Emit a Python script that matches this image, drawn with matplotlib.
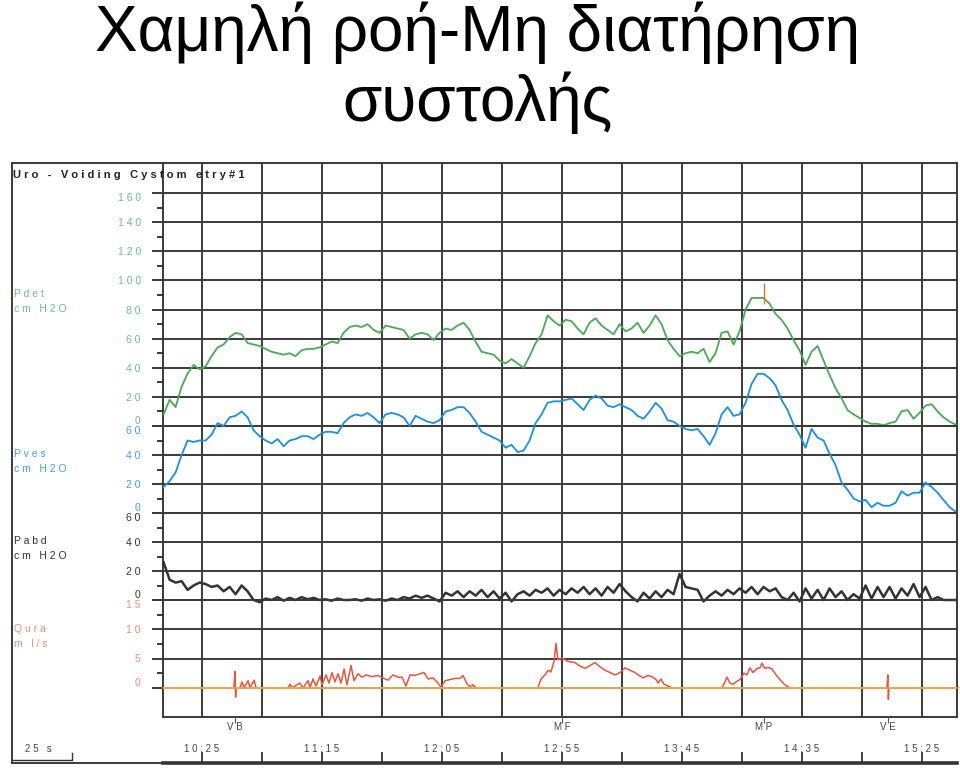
import numpy as np
import matplotlib.pyplot as plt
from matplotlib.lines import Line2D

plt.rcParams['font.family'] = ['Liberation Sans', 'DejaVu Sans']

# ---- data ----
# pressure channels sampled every 2.5 s from 609 s
t = np.arange(609, 940, 2.5)

pdet = [8, 18, 13, 27, 36, 42, 39, 41, 48, 54,
        56, 61, 64, 63, 57, 56, 55, 53, 51, 50,
        49, 50, 48, 52, 53, 53, 54, 56, 58, 57,
        64, 68, 69, 68, 70, 66, 64, 69, 68, 67,
        66, 60, 63, 64, 63, 59, 64, 67, 66, 69,
        71, 66, 58, 51, 50, 49, 45, 43, 46, 43,
        40, 48, 57, 63, 76, 72, 69, 73, 72, 67,
        63, 71, 74, 69, 66, 63, 70, 65, 67, 71,
        64, 69, 76, 70, 59, 53, 48, 50, 51, 50,
        53, 44, 50, 64, 65, 56, 65, 80, 88, 88,
        88, 84, 77, 73, 67, 59, 52, 42, 51, 55,
        45, 35, 26, 19, 11, 8, 5.5, 3, 1.5, 1.5,
        0.5, 2, 3, 10, 11, 5, 9, 14, 15, 10,
        6, 3, 1]

pves = [18, 22, 28, 40, 50, 49, 50, 50, 54, 62,
        60, 66, 67, 70, 66, 57, 53, 50, 48, 51,
        46, 50, 51, 53, 53, 51, 54, 56, 56, 55,
        62, 66, 68, 67, 69, 66, 62, 68, 69, 68,
        66, 60, 67, 65, 63, 62, 64, 70, 71, 73,
        73, 69, 63, 56, 54, 52, 50, 45, 47, 42,
        43, 50, 62, 68, 76, 77, 77, 78, 79, 75,
        71, 78, 81, 79, 74, 73, 75, 73, 71, 67,
        65, 70, 76, 72, 64, 63, 60, 58, 57, 58,
        53, 47, 55, 68, 73, 67, 68, 76, 89, 96,
        96, 93, 88, 78, 71, 61, 54, 45, 58, 52,
        50, 41, 33, 21, 16, 10, 8, 9, 4, 7,
        5, 5, 7, 15, 12, 14, 14, 21, 18, 14,
        9, 4, 1]

pabd = [26, 14, 12, 13, 7, 10, 12, 11, 9, 10,
        6, 9, 4, 10, 6, 0, -1.5, 1, 0, 2,
        -0.5, 1.5, 0, 2, 0.5, 1.5, 0, 0.5, -0.5, 1,
        0, 0, 0.5, -0.5, 1, 0, 0.5, -0.5, 1, 0,
        2, 1, 3, 1.5, 3, 1, -1, 5, 3, 6,
        2, 6, 3, 7, 2, 6, 1, 5, -1, 4,
        6, 3, 7, 5, 8, 3, 7, 4, 8, 5,
        9, 4, 8, 3, 9, 5, 11, 6, 2, -1,
        5, 1, 6, 2, 7, 4, 18, 9, 8, 7,
        -1, 3, 6, 3, 7, 4, 8, 5, 9, 4,
        9, 6, 8, 2, 0, 5, -1, 8, 1, 7,
        0, 8, 2, 6, 0, 4, 1, 10, 1, 9,
        2, 9, 1, 8, 3, 11, 2, 9, 0, 2,
        0, 0, 0]

# flow: (time s, ml/s)
qura_pts = [(608.75, 0), (638.3, 0), (638.75, 2.8), (639, -1.6), (639.2, 0),
            (640.8, 0), (641.7, 1), (642.5, 0), (644.2, 1.2), (645, 0),
            (646.7, 1.3), (647.5, 0),
            (660.8, 0), (661.7, 0.6), (662.5, 0), (665.8, 0.8), (667.1, 0),
            (669.2, 1.2), (670, 0), (671.25, 1.5), (672.5, 0.3), (674.2, 2),
            (675, 0.5), (676.7, 2.2), (677.9, 0.8), (679.2, 2.6), (680.4, 1),
            (681.7, 2.4), (682.9, 0.8), (684.2, 3.2), (685.4, 0.5), (687.1, 3.8),
            (688.3, 1.2), (690, 2.4), (691.7, 1.8), (693.3, 2.2), (695.8, 1.9),
            (698.3, 2.1), (700.8, 1.6), (702.5, 1.3), (704.6, 2.2), (706.7, 1.8),
            (708.3, 1.8), (710, 0.3), (711.7, 2.2), (713.75, 2.1), (715.8, 2.4),
            (717.5, 2.6), (719.2, 1.5), (721.25, 1.7), (722.9, 1), (724.6, 0.1),
            (726.25, 1.2), (728.3, 1.4), (730.4, 1.6), (732.5, 1.6), (733.75, 2.1),
            (735.4, 0.7), (736.7, 0.2), (737.9, 0.5), (739.2, 0),
            (765, 0), (766.25, 1.5), (767.9, 2.2), (769.2, 3), (770.4, 2.7),
            (771.7, 4.5), (772.5, 7.6), (773.3, 4.8), (775, 5.1), (777.5, 4.5),
            (780.4, 4.3), (782.5, 3.7), (784.6, 3.3), (786.7, 3.8), (788.75, 4.3),
            (790.8, 3.6), (792.9, 3), (795, 2.6), (797.1, 2.2), (799.2, 2.6),
            (801.25, 3.4), (803.3, 3), (805.4, 2.6), (807.5, 2), (808.75, 1.7),
            (810.8, 2.1), (812.5, 1.9), (814.2, 1.4), (815, 0.8), (816.25, 1.5),
            (817.5, 0.6), (818.75, 0.4), (820.8, 0),
            (841.7, 0), (842.9, 1), (843.75, 1.8), (845, 0.8), (846.25, 0.6),
            (847.9, 1.1), (849.2, 1.4), (850.8, 2.5), (852.1, 2.2), (853.3, 3.4),
            (854.6, 2.6), (856.25, 3.3), (857.5, 3.4), (858.3, 4.2), (859.6, 3.3),
            (860.8, 3.5), (862.5, 3.2), (864.2, 2.2), (865.8, 1.4), (867.9, 0.5),
            (870, 0),
            (910.4, 0), (910.8, 2.2), (911, -2), (911.25, 0), (940, 0)]
qura_t, qura = zip(*qura_pts)

event_names = ['V B', 'M F', 'M P', 'V E']
event_times = [638.75, 775, 859, 911]
mp_mark = (84, 98)            # Pdet range of the max-pressure marker

time_ticks = np.arange(625, 926, 25)
time_labels = ['1 0 : 2 5', '1 1 : 1 5', '1 2 : 0 5', '1 2 : 5 5',
               '1 3 : 4 5', '1 4 : 3 5', '1 5 : 2 5']
time_label_pos = [625, 675, 725, 775, 825, 875, 925]

# ---- style ----
GRID = '#3a3a3a'
GREEN, GREEN_L = '#4aaa55', '#6cbf8f'
BLUE, BLUE_L = '#1b8fe0', '#3fa2de'
BLACK = '#333333'
RED, RED_L, ORANGE = '#e8553f', '#e8907a', '#f5b246'
XLIM = (608.75, 939.6)

W, H = 960, 784
fig = plt.figure(figsize=(9.6, 7.84), dpi=100)
fig.patch.set_facecolor('white')


def px_axes(x0, y0, x1, y1):
    return fig.add_axes([x0 / W, 1 - y1 / H, (x1 - x0) / W, (y1 - y0) / H])


def spaced(v):
    return ' '.join(str(v))


ax_det = px_axes(163, 163, 957, 426)
ax_ves = px_axes(163, 426, 957, 513)
ax_abd = px_axes(163, 513, 957, 600)
ax_q = px_axes(163, 600, 957, 717)

panels = [
    (ax_det, (0, 180.7), range(0, 161, 20), range(10, 160, 20), GREEN_L, 160, 0),
    (ax_ves, (0, 60), range(0, 61, 20), range(10, 60, 20), BLUE_L, 60, 0),
    (ax_abd, (0, 60), range(0, 61, 20), range(10, 60, 20), BLACK, 60, 0),
    (ax_q, (-5, 15), range(0, 16, 5), [2.5, 7.5, 12.5], RED_L, 15, 0),
]
for ax, ylim, major, minor, lcol, top, bot in panels:
    ax.set_facecolor('none')
    ax.set_xlim(*XLIM)
    ax.set_ylim(*ylim)
    ax.set_xticks(time_ticks)
    ax.set_yticks(list(major))
    ax.set_yticklabels([spaced(v) for v in major])
    ax.set_yticks(list(minor), minor=True)
    ax.grid(True, which='major', color=GRID, lw=1.4)
    ax.tick_params(axis='x', length=0, labelbottom=False)
    ax.tick_params(axis='y', which='major', length=8, width=1.4, color=GRID,
                   pad=8, labelsize=7.5, labelcolor=lcol)
    ax.tick_params(axis='y', which='minor', length=4.5, width=1.4, color=GRID)
    for s in ax.spines.values():
        s.set_color(GRID)
        s.set_linewidth(1.4)
    for v, tk in zip(major, ax.yaxis.get_major_ticks()):
        if v == top:
            tk.label1.set_va('top')
        elif v == bot:
            tk.label1.set_va('bottom')

ax_det.plot(t, pdet, color=GREEN, lw=1.3, clip_on=False, zorder=3)
ax_det.vlines(event_times[2], *mp_mark, color='#e07048', lw=1, zorder=4)
ax_ves.plot(t, pves, color=BLUE, lw=1.3, clip_on=False, zorder=3)
ax_abd.plot(t, pabd, color=BLACK, lw=1.8, clip_on=False, zorder=3)
ax_q.plot(qura_t, qura, color=RED, lw=1.1, clip_on=False, zorder=3)
ax_q.axhline(0, color=ORANGE, lw=1.3, zorder=4)

# time ruler
ax_t = px_axes(163, 717, 957, 763)
ax_t.set_facecolor('none')
ax_t.set_xlim(*XLIM)
ax_t.set_ylim(0, 1)
for k in ['top', 'left', 'right']:
    ax_t.spines[k].set_visible(False)
ax_t.spines['bottom'].set_linewidth(2.6)
ax_t.spines['bottom'].set_color(BLACK)
ax_t.set_yticks([])
ax_t.set_xticks(time_ticks)
ax_t.tick_params(axis='x', direction='in', length=8, width=1.3, color=BLACK,
                 labelbottom=False)
for tl, lab in zip(time_label_pos, time_labels):
    ax_t.text(tl, 0.3, lab, ha='center', va='center', fontsize=7, color='#444444')
for name, te in zip(event_names, event_times):
    ax_t.vlines(te, 0.86, 1.0, color='#555555', lw=0.8)
    ax_t.text(te, 0.78, name, ha='center', va='center', fontsize=7, color='#444444')

# 25 s scale bar
bar_start = XLIM[0] - 151 / 2.4
ax_t.plot([bar_start, bar_start + 25, bar_start + 25], [0.06, 0.06, 0.22],
          color=BLACK, lw=1, clip_on=False)
ax_t.text(bar_start + 11, 0.3, '2 5   s', ha='center', va='center',
          fontsize=7, color='#444444')

# outer frame pieces to the left of the plot
fx = lambda x: x / W
fy = lambda y: 1 - y / H
for xs, ys in [([12, 12], [163, 763]), ([12, 163], [163, 163]), ([12, 163], [763, 763])]:
    fig.add_artist(Line2D([fx(v) for v in xs], [fy(v) for v in ys],
                          transform=fig.transFigure, color=GRID, lw=1.4))

# header and channel names
fig.text(fx(13), fy(175), 'U r o   -   V o i d i n g   C y s t o m   e t r y # 1',
         fontsize=8, fontweight='bold', color='#222222', va='center')
chan = [('P d e t', 'c m   H 2 O', 294, GREEN_L),
        ('P v e s', 'c m   H 2 O', 454, BLUE_L),
        ('P a b d', 'c m   H 2 O', 541, BLACK),
        ('Q u r a', 'm   l / s', 629, RED_L)]
for n1, n2, yy, c in chan:
    fig.text(fx(14), fy(yy), n1, fontsize=7.5, color=c, va='center')
    fig.text(fx(14), fy(yy + 15), n2, fontsize=7.5, color=c, va='center')

# slide title
fig.text(0.497, fy(51), 'Χαμηλή ροή-Μη διατήρηση', fontsize=46,
         ha='center', va='baseline', color='black')
fig.text(0.497, fy(121), 'συστολής', fontsize=46,
         ha='center', va='baseline', color='black')

fig.savefig('out.png', dpi=100)
